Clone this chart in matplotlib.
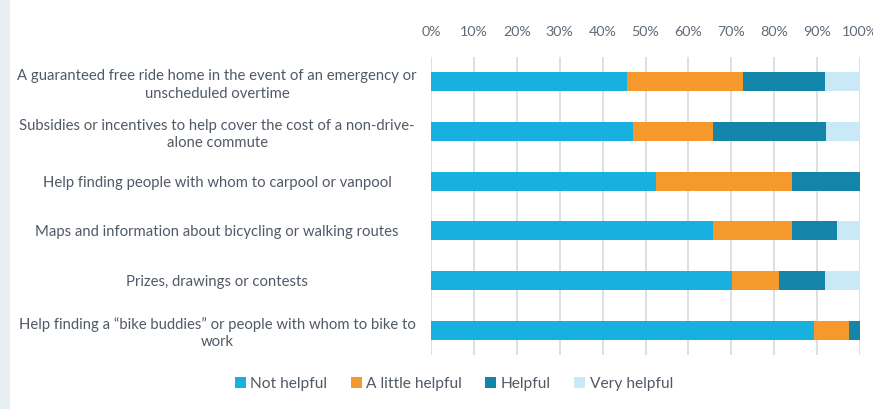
import matplotlib
matplotlib.use("Agg")
import matplotlib.pyplot as plt
from matplotlib.patches import Rectangle
import numpy as np

categories = [
    "A guaranteed free ride home in the event of an emergency or\nunscheduled overtime",
    "Subsidies or incentives to help cover the cost of a non-drive-\nalone commute",
    "Help finding people with whom to carpool or vanpool",
    "Maps and information about bicycling or walking routes",
    "Prizes, drawings or contests",
    "Help finding a \u201cbike buddies\u201d or people with whom to bike to\nwork",
]
series_names = ["Not helpful", "A little helpful", "Helpful", "Very helpful"]
not_helpful = [45.8, 47.2, 52.4, 65.7, 70.1, 89.3]
little_helpful = [27.0, 18.5, 31.7, 18.4, 11.0, 8.1]
helpful = [19.0, 26.3, 15.9, 10.6, 10.7, 2.6]
very_helpful = [8.2, 8.0, 0.0, 5.3, 8.2, 0.0]
xticks = [0, 10, 20, 30, 40, 50, 60, 70, 80, 90, 100]

colors = ["#17b0df", "#f6992d", "#1385a8", "#c8e9f5"]
text_color = "#505a66"

plt.rcParams['font.family'] = ['Lato', 'DejaVu Sans']

fig = plt.figure(figsize=(8.73, 4.09), dpi=100)
fig.patch.set_facecolor("white")
fig.patches.append(Rectangle((0, 0), 10 / 873, 1, transform=fig.transFigure,
                             facecolor="#e8eff3", edgecolor="none", zorder=0))

ax = fig.add_axes([431 / 873, 1 - 355 / 409, (860 - 431) / 873, (355 - 57) / 409])
y = np.arange(len(categories))
left = np.zeros(len(categories))
for vals, c, name in zip([not_helpful, little_helpful, helpful, very_helpful], colors, series_names):
    ax.barh(y, vals, left=left, height=0.38, color=c, label=name, zorder=3)
    left += np.array(vals)

ax.set_xlim(0, 100)
ax.set_ylim(len(categories) - 0.5, -0.5)
ax.set_xticks(xticks)
ax.set_xticklabels([f"{t}%" for t in xticks])
ax.xaxis.tick_top()
ax.tick_params(axis="x", length=0, labelsize=10.3, labelcolor="#5f6b78", pad=14)
ax.set_yticks(y)
ax.set_yticklabels(categories, ha="center", multialignment="center", linespacing=1.3)
ax.tick_params(axis="y", length=0, labelsize=10.7, labelcolor=text_color, pad=154)
ax.grid(axis="x", color="#d5d9de", linewidth=1.2, zorder=0)
for s in ax.spines.values():
    s.set_visible(False)

leg = fig.legend(loc="center", bbox_to_anchor=(454 / 873, 1 - 384 / 409), ncol=4,
                 frameon=False, fontsize=11.2, handlelength=0.7, handleheight=0.7,
                 handletextpad=0.3, columnspacing=1.5)
for t in leg.get_texts():
    t.set_color(text_color)

fig.savefig("out.png", dpi=100, facecolor="white")
